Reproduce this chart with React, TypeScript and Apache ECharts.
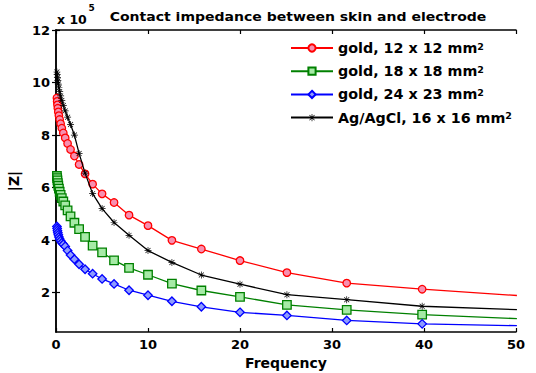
import React, { useEffect, useRef } from "react";
import * as echarts from "echarts";

const freq = [0.1, 0.126, 0.158, 0.2, 0.251, 0.316, 0.398, 0.501, 0.631, 0.794, 1, 1.26, 1.58, 2, 2.51, 3.16, 3.98, 5.01, 6.31, 7.94, 10, 12.6, 15.8, 20, 25.1, 31.6, 39.8, 50.1];

const gold12 = [9.41, 9.28, 9.15, 9.02, 8.88, 8.74, 8.59, 8.43, 8.26, 8.08, 7.89, 7.68, 7.45, 7.2, 6.88, 6.52, 6.13, 5.76, 5.43, 4.95, 4.55, 3.99, 3.66, 3.22, 2.76, 2.36, 2.13, 1.89];
const gold18 = [6.44, 6.36, 6.27, 6.17, 6.07, 5.96, 5.84, 5.72, 5.6, 5.47, 5.32, 5.13, 4.9, 4.66, 4.42, 4.12, 3.79, 3.53, 3.23, 2.94, 2.68, 2.34, 2.08, 1.84, 1.53, 1.34, 1.16, 1.01];
const gold24 = [4.52, 4.44, 4.36, 4.28, 4.2, 4.12, 4.04, 3.97, 3.9, 3.84, 3.76, 3.6, 3.43, 3.27, 3.08, 2.89, 2.72, 2.52, 2.33, 2.09, 1.9, 1.67, 1.46, 1.25, 1.13, 0.94, 0.81, 0.74];
const agcl16 = [10.4, 10.3, 10.19, 10.07, 9.94, 9.8, 9.65, 9.49, 9.32, 9.13, 8.92, 8.68, 8.4, 8.0, 7.3, 6.55, 5.77, 5.2, 4.67, 4.18, 3.6, 3.15, 2.67, 2.32, 1.92, 1.73, 1.48, 1.35];

const seriesNames = ["gold, 12 x 12 mm²", "gold, 18 x 18 mm²", "gold, 24 x 23 mm²", "Ag/AgCl, 16 x 16 mm²"];
const xTicks = [0, 10, 20, 30, 40, 50];
const yTicks = [2, 4, 6, 8, 10, 12];
const titleText = "Contact impedance between skin and electrode";

const FONT = "DejaVu Sans";
const ASTERISK =
  "path://M4.5,0 L5.5,0 L5.5,10 L4.5,10 Z M0,4.5 L10,4.5 L10,5.5 L0,5.5 Z M1.1,1.8 L1.8,1.1 L8.9,8.2 L8.2,8.9 Z M8.2,1.1 L8.9,1.8 L1.8,8.9 L1.1,8.2 Z";

const pair = (vals: number[]) => freq.map((f, i) => [f, vals[i]]);

export default function App() {
  const ref = useRef<HTMLDivElement>(null);
  useEffect(() => {
    document.body.style.margin = "0";
    const chart = echarts.init(ref.current!, null, { renderer: "svg" });
    const axisLine = { show: true, lineStyle: { color: "#000", width: 1.5 } };
    const styles = [
      { color: "#ff0000", fill: "#f78fb0", symbol: "circle", size: 7.5 },
      { color: "#008000", fill: "#a6eaa6", symbol: "rect", size: 8.5 },
      { color: "#0000ff", fill: "#8e9cff", symbol: "diamond", size: 8.5 },
      { color: "#000000", fill: "#000000", symbol: ASTERISK, size: 7 },
    ];
    const datasets = [gold12, gold18, gold24, agcl16];
    chart.setOption({
      animation: false,
      grid: { left: 56, right: 20, top: 30, bottom: 41, containLabel: false, outerBoundsMode: "none" },
      legend: {
        orient: "vertical",
        left: 285,
        top: 36,
        itemWidth: 42,
        itemHeight: 9,
        itemGap: 9.2,
        data: seriesNames,
        formatter: (n: string) => n.replace("²", "{sup|2}"),
        textStyle: {
          fontFamily: FONT,
          fontWeight: "bold",
          fontSize: 14.3,
          color: "#000",
          rich: {
            sup: { fontFamily: FONT, fontWeight: "bold", fontSize: 9.5, color: "#000", verticalAlign: "top" },
          },
        },
      },
      graphic: [
        {
          type: "text",
          x: 298,
          y: 17,
          scaleX: 1.22,
          style: { text: titleText, fontFamily: FONT, fontWeight: "bold", fontSize: 11.5, fill: "#000", align: "center", verticalAlign: "middle" },
        },
        {
          type: "text",
          x: 57,
          y: 19.5,
          style: { text: "x 10", fontFamily: FONT, fontWeight: "bold", fontSize: 12.5, fill: "#000", align: "left", verticalAlign: "middle" },
        },
        {
          type: "text",
          x: 88.5,
          y: 8,
          style: { text: "5", fontFamily: FONT, fontWeight: "bold", fontSize: 9, fill: "#000", align: "left", verticalAlign: "middle" },
        },
      ],
      xAxis: [
        {
          type: "value",
          min: 0,
          max: 50,
          interval: 10,
          name: "Frequency",
          nameLocation: "middle",
          nameGap: 22,
          nameTextStyle: { fontFamily: FONT, fontWeight: "bold", fontSize: 14, color: "#000" },
          axisLine,
          axisTick: { show: true, inside: true, length: 4, lineStyle: { color: "#000", width: 1.2 }, customValues: xTicks },
          axisLabel: { fontFamily: FONT, fontWeight: "bold", fontSize: 13, color: "#000", margin: 6, customValues: xTicks },
          splitLine: { show: false },
        },
        {
          type: "value",
          position: "top",
          min: 0,
          max: 50,
          interval: 10,
          axisLine,
          axisTick: { show: true, inside: true, length: 4, lineStyle: { color: "#000", width: 1.2 } },
          axisLabel: { show: false },
          splitLine: { show: false },
        },
      ],
      yAxis: [
        {
          type: "value",
          min: 0.5,
          max: 12,
          name: "|Z|",
          nameLocation: "middle",
          nameGap: 27,
          nameTextStyle: { fontFamily: FONT, fontWeight: "bold", fontSize: 14, color: "#000" },
          axisLine,
          axisTick: { show: true, inside: true, length: 4, lineStyle: { color: "#000", width: 1.2 }, customValues: yTicks },
          axisLabel: { fontFamily: FONT, fontWeight: "bold", fontSize: 13, color: "#000", margin: 6, customValues: yTicks },
          splitLine: { show: false },
        },
        {
          type: "value",
          position: "right",
          min: 0.5,
          max: 12,
          axisLine,
          axisTick: { show: true, inside: true, length: 4, lineStyle: { color: "#000", width: 1.2 }, customValues: yTicks },
          axisLabel: { show: false },
          splitLine: { show: false },
        },
      ],
      series: datasets.map((d, i) => ({
        name: seriesNames[i],
        type: "line",
        xAxisIndex: 0,
        yAxisIndex: 0,
        data: pair(d),
        clip: true,
        showSymbol: true,
        showAllSymbol: true,
        symbol: styles[i].symbol,
        symbolSize: styles[i].size,
        lineStyle: { color: styles[i].color, width: 1.3 },
        itemStyle: { color: styles[i].fill, borderColor: styles[i].color, borderWidth: i === 3 ? 0 : 1.3 },
        emphasis: { disabled: true },
        z: 2 + i,
      })),
    });
    return () => chart.dispose();
  }, []);
  return <div ref={ref} style={{ width: 536, height: 373 }} />;
}
